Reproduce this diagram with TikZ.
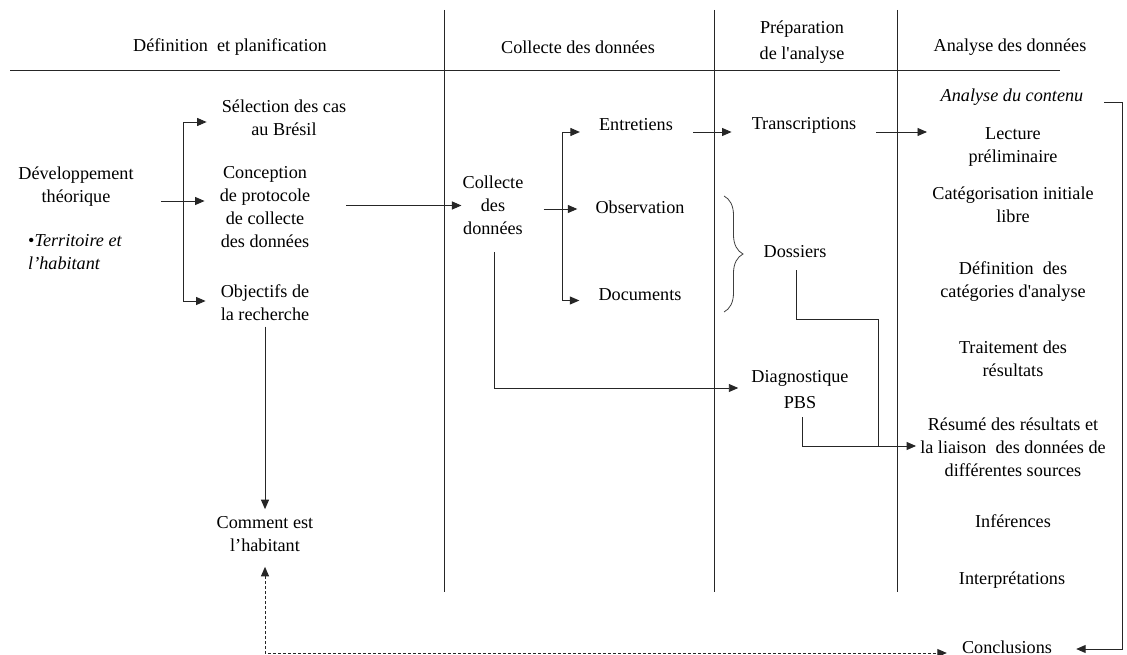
\documentclass[tikz,border=0pt]{standalone}
\usepackage{fontspec}
\newfontfamily\tnr{Liberation Serif}
\usetikzlibrary{arrows.meta,decorations.pathreplacing}
\begin{document}
\begin{tikzpicture}[x=1pt,y=-1pt,
  txt/.style={font=\tnr\fontsize{18.2}{23}\selectfont, align=center, inner sep=1pt},
  conn/.style={line width=0.95pt, draw=black!85},
  arr/.style={conn, -{Triangle[length=9.5pt,width=8pt]}},
  dl/.style={conn, dash pattern=on 3pt off 2pt},
  colline/.style={line width=0.9pt, draw=black!85}]
\useasboundingbox (0,0) rectangle (1127,655);

% frame lines
\draw[colline] (10,70) -- (1060,70);
\draw[colline] (444,10) -- (444,592);
\draw[colline] (714,10) -- (714,592);
\draw[colline] (897,10) -- (897,592);

% headers
\node[txt] (h1) at (230,47) {Définition~ et planification};
\node[txt] (h2) at (578,47) {Collecte des données};
\node[txt] (h3) at (802,42) {Préparation\\[3pt]de l'analyse};
\node[txt] (h4) at (1010,47) {Analyse des données};

% column 1
\node[txt] (dev) at (76,186.5) {Développement\\théorique};
\node[txt, anchor=west, align=left] (terr) at (27,252.5) {•\textit{Territoire et}\\\textit{l’habitant}};
\node[txt] (sel) at (284,117.5) {Sélection des cas\\au Brésil};
\node[txt] (concep) at (265,207) {Conception\\de protocole\\de collecte\\des données};
\node[txt] (obj) at (265,302.5) {Objectifs de\\la recherche};
\node[txt] (comm) at (265,534) {Comment est\\l’habitant};

% column 2
\node[txt] (coll) at (493,205.5) {Collecte\\des\\données};
\node[txt] (ent) at (636,125) {Entretiens};
\node[txt] (obs) at (640,207.5) {Observation};
\node[txt] (doc) at (640,294.5) {Documents};

% column 3
\node[txt] (trans) at (804,125) {Transcriptions};
\node[txt] (dos) at (795,252) {Dossiers};
\node[txt] (diag) at (800,390) {Diagnostique\\[3pt]PBS};

% column 4
\node[txt] (anc) at (1012,97) {\textit{Analyse du contenu}};
\node[txt] (lect) at (1013,146.5) {Lecture\\préliminaire};
\node[txt] (cat) at (1013,205) {Catégorisation initiale\\libre};
\node[txt] (def) at (1013,282) {Définition~ des\\catégories d'analyse};
\node[txt] (trt) at (1013,358.5) {Traitement des\\résultats};
\node[txt] (res) at (1013,447.5) {Résumé des résultats et\\la liaison~ des données de\\différentes sources};
\node[txt] (inf) at (1013,521) {Inférences};
\node[txt] (itp) at (1012,580) {Interprétations};
\node[txt] (ccl) at (1007,647) {Conclusions};

% connectors column 1
\coordinate (br) at (183,201);
\draw[conn] (dev.east |- br) ++(26,0) -- (br);
\draw[arr, shorten >=14pt] (br) |- ([yshift=-4.5pt]sel.west);
\draw[arr, shorten >=14pt] (br) -- (concep.west |- br);
\draw[arr, shorten >=14pt] (br) |- ([yshift=1.5pt]obj.west);
\draw[arr] (coll.west) ++(-115,0) -- (coll.west);
\draw[arr, shorten <=5pt, shorten >=6pt] (obj.south) -- (comm.north);

% connectors column 2
\coordinate (br2) at (562,209);
\draw[conn] (coll.east |- br2) ++(19,0) -- (br2);
\draw[arr, shorten >=18pt] (br2) |- ([yshift=-7pt]ent.west);
\draw[arr, shorten >=17pt] (br2) -- (obs.west |- br2);
\draw[arr, shorten >=18pt] (br2) |- ([yshift=-6pt]doc.west);
\draw[arr, shorten >=19pt] ([xshift=19pt,yshift=-7pt]ent.east) -- ([yshift=-7pt]trans.west);
\draw[arr, shorten >=12pt] (coll.south) ++(1,16) |- ([yshift=2pt]diag.west);

% brace
\draw[line width=0.8pt, draw=black!75, decorate, decoration={brace, amplitude=19pt, aspect=0.5}] (724,196) -- (724,312);

% connectors column 3
\coordinate (lectin) at (927,132);
\draw[arr] ([xshift=19pt,yshift=-7pt]trans.east) -- (lectin);
\coordinate (jn) at (878,446);
\draw[conn] (dos.south) ++(1,11) -- ++(0,49) -| (jn);
\draw[arr, shorten >=3pt] (diag.south) ++(2,7) |- ([yshift=1.5pt]res.west);

% right loop and dashed feedback
\coordinate (rc) at (1122,102);
\draw[arr, shorten >=23pt] (anc.east) ++(20,5) -- (rc) |- ([yshift=-2pt]ccl.east);
\coordinate (dc) at (265,653);
\draw[dl, {Triangle[length=9.5pt,width=8pt]}-{Triangle[length=9.5pt,width=8pt]}, shorten <=14pt, shorten >=14pt] (comm.south) -- (dc) -- (dc -| ccl.west);
\end{tikzpicture}
\end{document}
